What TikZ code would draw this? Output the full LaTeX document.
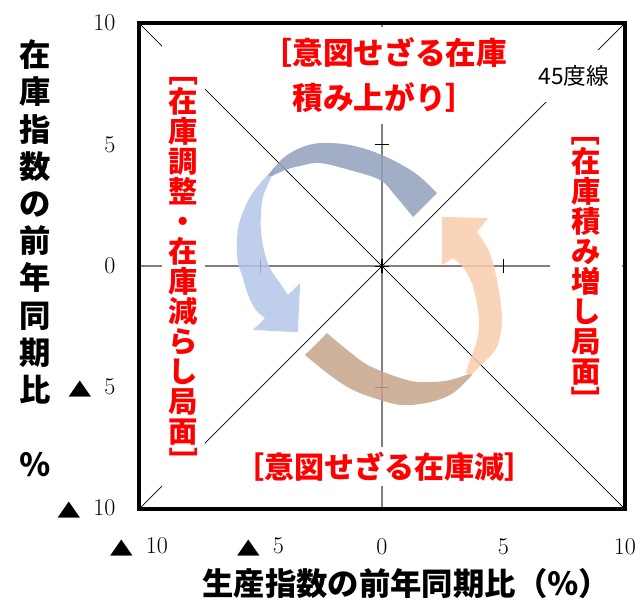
\documentclass[tikz,border=0pt]{standalone}
\usepackage{fontspec}
\usepackage{graphicx}
\usepackage{tikz}
\usetikzlibrary{positioning}
\newfontfamily\jpfont{Noto Sans CJK JP}
\newfontfamily\trifont{DejaVu Sans}
\definecolor{tailblue}{RGB}{144,160,188}
\definecolor{headblue}{RGB}{179,198,231}
\definecolor{headpeach}{RGB}{248,204,173}
\definecolor{tailbrown}{RGB}{199,164,138}
\definecolor{axisgray}{RGB}{128,128,128}
\newcommand{\tri}{{\trifont\fontsize{22}{22}\selectfont\scalebox{1}[0.72]{▲}}}
\newcommand{\vbra}{\rotatebox[origin=c]{-90}{［}}
\newcommand{\vket}{\rotatebox[origin=c]{-90}{］}}
\tikzset{
  % axes and guides
  axisline/.style={axisgray, line width=1.1pt},
  tickmark/.style={black, line width=0.8pt},
  diag/.style={black, line width=0.5pt},
  frame/.style={black, line width=3.6pt},
  % cycle arrows
  band/.style={fill opacity=0.85, draw=none},
  % red phase labels
  phase/.style={
    fill=white,
    text=red,
    align=center,
    inner sep=3pt,
    font=\jpfont\bfseries\fontsize{22}{22.5}\selectfont
  },
  ticklab/.style={font=\fontsize{18}{20}\selectfont, inner sep=1pt},
  axtitle/.style={align=center, font=\jpfont\bfseries\fontsize{23.5}{27.9}\selectfont},
}

\begin{document}
\begin{tikzpicture}[x=0.64cm, y=0.64cm]
    \useasboundingbox (-15.72,-13.79) rectangle (10.66,10.95);

    % Axes
    \draw[axisline] (-10,0) -- (10,0);
    \draw[axisline] (0,-10) -- (0,10);
    \draw[tickmark] (-5,-0.3) -- (-5,0.3);
    \draw[tickmark] (5,-0.3) -- (5,0.3);
    \draw[tickmark] (0,-0.3) -- (0,0.3);
    \draw[tickmark] (-0.3,-5) -- (0.3,-5);
    \draw[tickmark] (-0.3,5) -- (0.3,5);
    \draw[tickmark] (-0.3,0) -- (0.3,0);

    % Diagonals
    \draw[diag] (-10,-10) -- (10,10);
    \draw[diag] (-10,10) -- (10,-10);

    % Upper-left arrow
    \fill[band, headblue]
        plot[smooth, tension=0.6] coordinates {(-4.40,4.03) (-4.90,3.54) (-5.43,2.84) (-5.84,1.89) (-5.97,1.07) (-5.93,0.16) (-5.76,-0.37) (-5.51,-1.19) (-5.19,-1.81) (-4.81,-2.14)}
        -- (-5.31,-2.63) -- (-3.46,-2.72) -- (-3.37,-0.70) -- (-3.87,-1.19)
        -- plot[smooth, tension=0.6] coordinates {(-3.87,-1.19) (-4.20,-0.70) (-4.61,-0.08) (-4.86,0.66) (-4.98,1.48) (-4.98,2.10) (-4.90,2.84) (-4.61,3.54) (-4.40,4.03)}
        -- cycle;
    \fill[band, tailblue]
        plot[smooth, tension=0.6] coordinates {(2.26,3.00) (1.36,3.83) (0,4.57) (-1.32,4.98) (-2.55,5.06) (-3.37,4.86) (-4.07,4.44) (-4.69,3.74)}
        -- plot[smooth, tension=0.6] coordinates {(-4.53,3.70) (-3.99,3.95) (-3.37,4.12) (-2.55,4.24) (-1.32,3.95) (-0.08,3.54) (0.53,2.92) (1.28,2.02)}
        -- cycle;

    % Lower-right arrow
    \fill[band, tailbrown]
        (-2.26,-2.76) -- (-3.17,-3.66)
        -- plot[smooth, tension=0.6] coordinates {(-3.17,-3.66) (-2.14,-4.49) (-1.19,-5.10) (-0.08,-5.51) (0.86,-5.72) (1.98,-5.60) (2.92,-5.23) (3.70,-4.49)}
        -- plot[smooth, tension=0.6] coordinates {(3.70,-4.40) (2.80,-4.69) (1.98,-4.77) (1.03,-4.69) (-0.49,-4.12) (-1.32,-3.54) (-2.26,-2.76)}
        -- cycle;
    \fill[band, headpeach]
        (2.47,2.02) -- (4.36,1.98) -- (3.91,1.40)
        -- plot[smooth, tension=0.6] coordinates {(3.91,1.40) (4.44,0.53) (4.77,-0.78) (4.94,-2.22) (4.73,-3.33) (4.16,-3.99) (3.66,-4.49)}
        -- plot[smooth, tension=0.6] coordinates {(3.45,-4.40) (3.62,-3.87) (3.91,-3.05) (3.99,-2.22) (3.79,-0.99) (3.42,-0.16) (2.92,0.33)}
        -- (2.47,0.04) -- cycle;

    % Phase labels
    \node[phase, font=\jpfont\bfseries\fontsize{23}{34}\selectfont, inner ysep=8pt] (pileup) at (0.1,7.85) {［意図せざる在庫\\積み上がり］};
    \node[phase, minimum width=1.13cm, minimum height=11.77cm] (adjust) at (-8.17,-0.02)
        {\vbra\\在\\庫\\調\\整\\・\\在\\庫\\減\\ら\\し\\局\\面\\\vket};
    \node[phase, minimum width=1.9cm, minimum height=7.9cm] (buildup) at (8.4,0)
        {\vbra\\在\\庫\\積\\み\\増\\し\\局\\面\\\vket};
    \node[phase, font=\jpfont\bfseries\fontsize{22.5}{24}\selectfont, minimum height=1.05cm] (drawdown) at (0.1,-8.25) {［意図せざる在庫減］};
    \node[fill=white, minimum width=2.4cm, minimum height=1.37cm, font=\jpfont\fontsize{17}{20}\selectfont] (diaglab) at (7.9,7.82) {45度線};

    % Frame
    \draw[frame] (-10,-10) rectangle (10,10);

    % Tick labels
    \node[ticklab, anchor=east] (y10) at (-10.9,10) {10};
    \node[ticklab, anchor=east] (y5) at (-10.9,5) {5};
    \node[ticklab, anchor=east] (y0) at (-10.9,0) {0};
    \node[ticklab, anchor=east] (ym5) at (-10.9,-5) {\tri\hspace{10pt}5};
    \node[ticklab, anchor=east] (ym10) at (-10.9,-10) {\tri\hspace{10pt}10};
    \node[ticklab] (xm10) at (-10,-11.56) {\tri\hspace{10pt}10};
    \node[ticklab] (xm5) at (-5,-11.56) {\tri\hspace{10pt}5};
    \node[ticklab] (x0) at (0,-11.56) {0};
    \node[ticklab] (x5) at (5,-11.56) {5};
    \node[ticklab] (x10) at (10,-11.56) {10};

    % Axis titles
    \node[axtitle] (ytitle) at (-14.28,0.33) {在\\庫\\指\\数\\の\\前\\年\\同\\期\\比\\~\\％};
    \node[axtitle] (xtitle) at (1.0,-13.05) {生産指数の前年同期比（％）};
\end{tikzpicture}
\end{document}
